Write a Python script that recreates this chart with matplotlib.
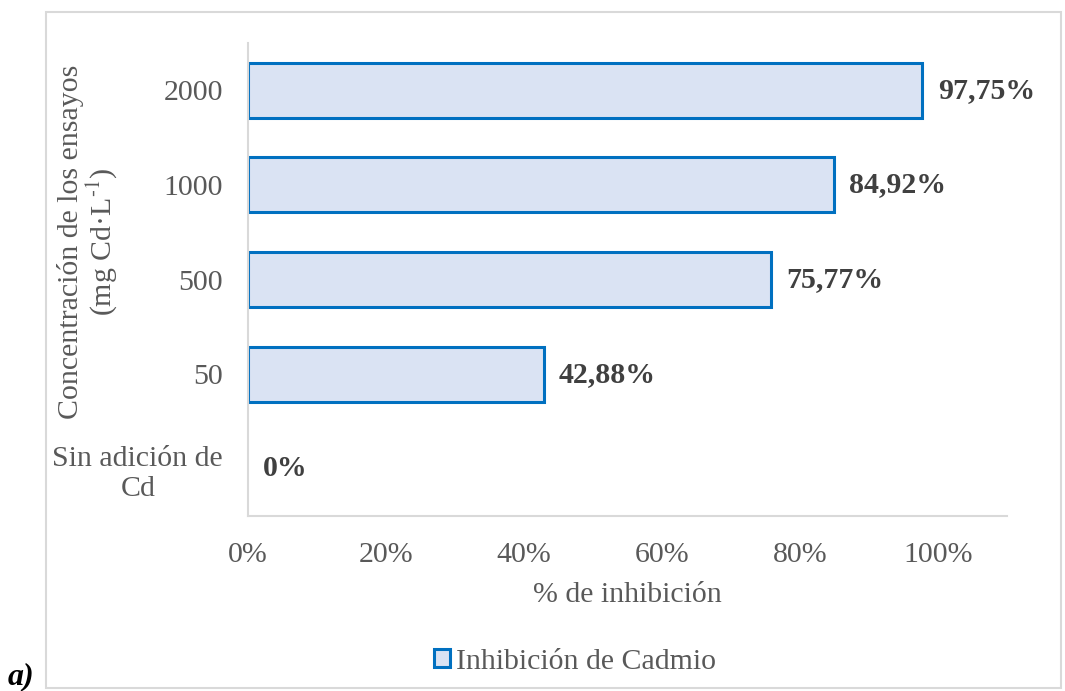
import numpy as np
import matplotlib.pyplot as plt
from matplotlib.patches import Rectangle, Patch

categories = ['Sin adición de\nCd', '50', '500', '1000', '2000']
inhibition = [0.0, 42.88, 75.77, 84.92, 97.75]
value_labels = ['0%', '42,88%', '75,77%', '84,92%', '97,75%']
x_ticks = [0, 20, 40, 60, 80, 100]

plt.rcParams['font.family'] = ['Liberation Serif', 'DejaVu Serif']
plt.rcParams['mathtext.fontset'] = 'stix'
grey = '#595959'
fill_c = '#dae3f3'
edge_c = '#0070c0'
fs = 21.5

fig = plt.figure(figsize=(10.65, 6.91), dpi=100)
# outer chart frame
fig.patches.append(Rectangle((46 / 1065, 3 / 691), 1015 / 1065, 676 / 691,
                             transform=fig.transFigure, fill=False,
                             edgecolor='#d9d9d9', linewidth=1.5))

ax = fig.add_axes([248 / 1065, 1 - 516 / 691, 759 / 1065, 473 / 691])
y = np.arange(len(categories))
edge_w = [2.2 if v > 0 else 0 for v in inhibition]
ax.barh(y, inhibition, height=0.58, color=fill_c, edgecolor=edge_c,
        linewidth=edge_w)

for yi, v, lab in zip(y, inhibition, value_labels):
    ax.text(v + 2.2, yi, lab, va='center', ha='left', fontsize=fs,
            fontweight='bold', color='#404040')

ax.set_xlim(0, 110)
ax.set_ylim(-0.5, len(categories) - 0.5)
ax.set_xticks(x_ticks)
ax.set_xticklabels([f'{t}%' for t in x_ticks])
ax.set_yticks(y)
ax.set_yticklabels(categories, multialignment='center')
ax.tick_params(axis='both', length=0, labelsize=fs, colors=grey)
ax.tick_params(axis='x', pad=19)
ax.tick_params(axis='y', pad=18)

for s in ['top', 'right']:
    ax.spines[s].set_visible(False)
for s in ['left', 'bottom']:
    ax.spines[s].set_color('#d9d9d9')
    ax.spines[s].set_linewidth(1.5)

ax.set_xlabel('% de inhibición', fontsize=fs, color=grey, labelpad=10)
fig.text(88 / 1065, 1 - 242 / 691,
         'Concentración de los ensayos\n(mg Cd·L$^{\\mathrm{\u2010}1}$)',
         rotation=90, ha='center', va='center', fontsize=fs, color=grey,
         multialignment='center', linespacing=1.0)

proxy = Patch(facecolor=fill_c, edgecolor=edge_c, linewidth=2.2,
              label='Inhibición de Cadmio')
fig.legend(handles=[proxy], loc='center', bbox_to_anchor=(575 / 1065, 1 - 662 / 691),
           frameon=False, fontsize=fs, labelcolor=grey, handlelength=0.55,
           handleheight=0.55, handletextpad=0.2)

fig.text(8 / 1065, 1 - 677 / 691, 'a)', fontsize=23, fontweight='bold',
         fontstyle='italic', ha='left', va='center', color='black')

fig.savefig('out.png', dpi=100)
